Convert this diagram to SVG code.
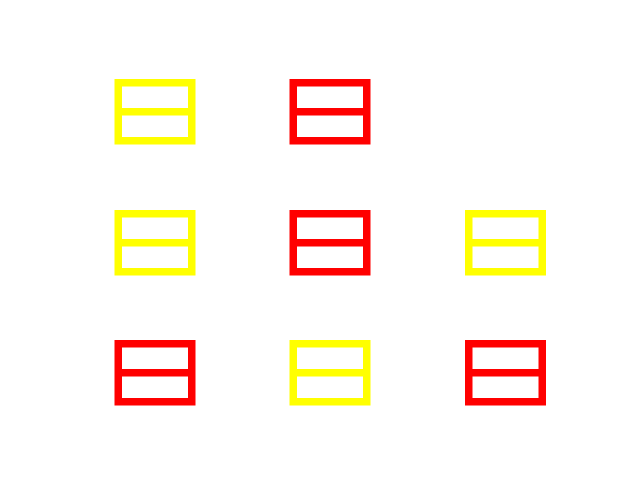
<svg xmlns="http://www.w3.org/2000/svg" width="640" height="480" viewBox="0 0 640 480">
<style>
.b{fill:none;stroke-width:7.5}
.y{stroke:#ffff00}
.r{stroke:#ff0000}
</style>
<defs>
<g id="box">
<rect x="3.75" y="3.75" width="73.5" height="58"/>
<line x1="3.75" y1="32.75" x2="77.25" y2="32.75"/>
</g>
</defs>
<rect width="640" height="480" fill="#ffffff"/>
<g id="n1" class="b y" transform="translate(114.5,79)"><use href="#box"/></g>
<g id="n2" class="b r" transform="translate(289.5,79)"><use href="#box"/></g>
<g id="n3" class="b y" transform="translate(114.5,210)"><use href="#box"/></g>
<g id="n4" class="b r" transform="translate(289.5,210)"><use href="#box"/></g>
<g id="n5" class="b y" transform="translate(465,210)"><use href="#box"/></g>
<g id="n6" class="b r" transform="translate(114.5,340)"><use href="#box"/></g>
<g id="n7" class="b y" transform="translate(289.5,340)"><use href="#box"/></g>
<g id="n8" class="b r" transform="translate(465,340)"><use href="#box"/></g>
<g id="connectors"/>
</svg>
